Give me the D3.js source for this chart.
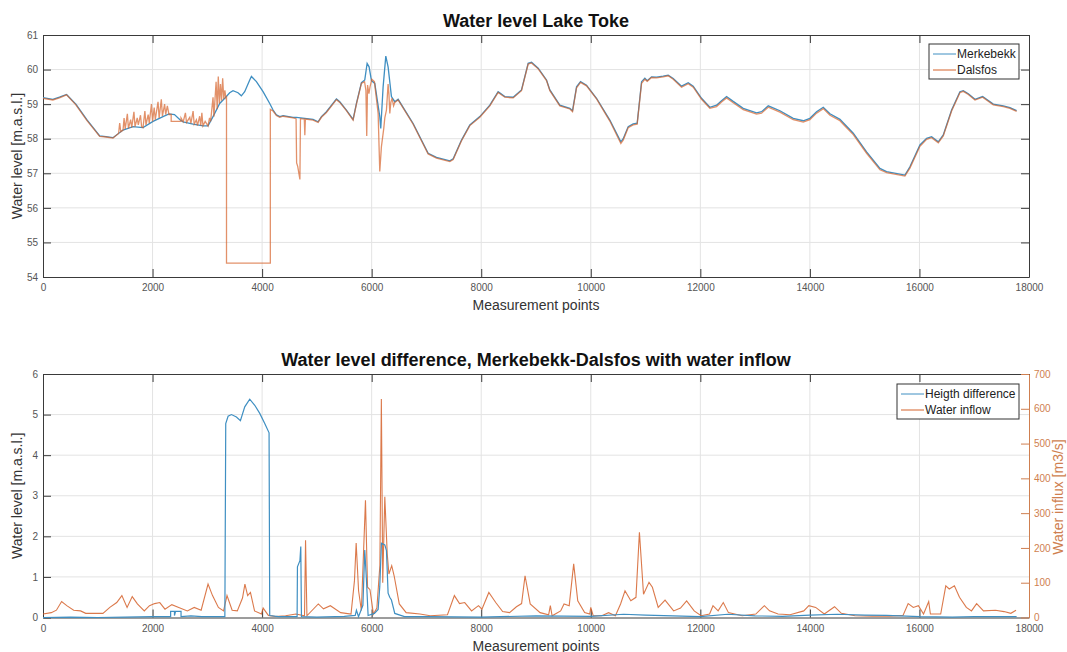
<!DOCTYPE html>
<html>
<head>
<meta charset="utf-8">
<script src="https://cdn.jsdelivr.net/npm/d3@7"></script>
<style>
  body { margin: 0; background: #fff; }
  text { font-family: "Liberation Sans", Arial, sans-serif; }
</style>
</head>
<body>
<div id="chart"></div>
<script>
// measurement point ticks
var xTicks = [0, 2000, 4000, 6000, 8000, 10000, 12000, 14000, 16000, 18000];
var levelTicks = [54, 55, 56, 57, 58, 59, 60, 61];
var diffTicks = [0, 1, 2, 3, 4, 5, 6];
var inflowTicks = [0, 100, 200, 300, 400, 500, 600, 700];

// [measurement point, water level m.a.s.l.]
var merkebekk = [[0,59.19],[180,59.14],[300,59.2],[430,59.28],[600,59.0],[800,58.55],[1035,58.08],[1150,58.06],[1278,58.03],[1461,58.25],[1643,58.35],[1826,58.32],[2009,58.5],[2191,58.64],[2300,58.72],[2400,58.7],[2500,58.55],[2557,58.49],[2739,58.42],[2922,58.37],[3013,58.37],[3104,58.64],[3226,59.02],[3318,59.17],[3408,59.33],[3469,59.39],[3560,59.33],[3621,59.24],[3682,59.36],[3774,59.7],[3805,59.8],[3896,59.65],[4017,59.36],[4139,59.02],[4200,58.83],[4261,58.69],[4322,58.64],[4383,58.67],[4565,58.62],[4626,58.62],[4931,58.56],[5022,58.49],[5083,58.64],[5174,58.78],[5357,59.15],[5418,59.07],[5539,58.83],[5661,58.56],[5722,59.02],[5813,59.62],[5874,59.7],[5917,60.18],[5953,60.08],[5996,59.68],[6057,59.6],[6148,58.64],[6166,58.3],[6209,59.5],[6258,60.39],[6300,60.08],[6361,59.22],[6422,59.07],[6483,59.14],[6757,58.44],[7031,57.58],[7183,57.46],[7427,57.36],[7488,57.42],[7640,57.96],[7792,58.4],[7974,58.64],[8157,58.97],[8309,59.36],[8431,59.22],[8583,59.2],[8735,59.41],[8857,60.18],[8918,60.21],[9040,60.04],[9192,59.7],[9253,59.41],[9435,58.97],[9618,58.88],[9667,58.81],[9740,59.5],[9813,59.65],[9922,59.55],[10105,59.17],[10348,58.54],[10549,57.91],[10592,58.0],[10683,58.35],[10774,58.43],[10847,58.45],[10927,59.65],[10987,59.75],[11030,59.68],[11109,59.79],[11200,59.78],[11322,59.81],[11413,59.84],[11505,59.74],[11657,59.52],[11779,59.62],[11870,59.52],[12022,59.17],[12174,58.91],[12296,58.97],[12387,59.1],[12479,59.22],[12600,59.08],[12783,58.88],[13026,58.75],[13118,58.78],[13240,58.95],[13453,58.81],[13696,58.59],[13879,58.52],[14000,58.59],[14122,58.78],[14244,58.91],[14366,58.72],[14549,58.56],[14609,58.46],[14792,58.16],[15035,57.62],[15279,57.14],[15400,57.05],[15735,56.95],[15826,57.19],[16009,57.82],[16131,58.01],[16222,58.06],[16344,57.91],[16435,58.11],[16587,58.83],[16739,59.36],[16800,59.39],[16892,59.3],[17014,59.14],[17153,59.22],[17348,59.0],[17531,58.95],[17652,58.9],[17774,58.81]];

var dalsfos = [[0,59.17],[180,59.12],[300,59.18],[430,59.27],[600,58.98],[800,58.53],[1035,58.07],[1150,58.05],[1278,58.02],[1380,58.15],[1400,58.45],[1420,58.2],[1461,58.25],[1480,58.6],[1500,58.28],[1540,58.72],[1560,58.3],[1600,58.55],[1620,58.32],[1660,58.78],[1680,58.35],[1720,58.6],[1740,58.4],[1780,58.68],[1800,58.35],[1826,58.32],[1860,58.8],[1880,58.4],[1920,58.7],[1940,58.45],[1980,59.0],[2000,58.5],[2030,58.9],[2050,58.55],[2100,59.07],[2120,58.6],[2160,59.14],[2180,58.65],[2220,59.0],[2240,58.7],[2270,58.95],[2300,58.7],[2340,58.7],[2340,58.5],[2520,58.5],[2520,58.6],[2560,58.49],[2600,58.75],[2620,58.47],[2680,58.62],[2700,58.44],[2740,58.8],[2760,58.42],[2800,58.55],[2820,58.38],[2860,58.65],[2880,58.38],[2900,58.75],[2920,58.37],[2960,58.5],[3013,58.37],[3040,58.6],[3060,58.5],[3104,59.2],[3120,58.64],[3160,59.65],[3180,58.85],[3200,59.8],[3220,59.02],[3240,59.58],[3260,59.1],[3280,59.75],[3300,59.15],[3320,59.4],[3340,59.17],[3350,59.19],[3350,54.4],[4150,54.4],[4150,58.85],[4200,58.8],[4261,58.67],[4322,58.62],[4383,58.65],[4565,58.6],[4620,58.58],[4630,57.3],[4650,57.2],[4690,56.82],[4700,58.58],[4770,58.57],[4780,58.1],[4790,58.57],[4931,58.54],[5022,58.47],[5083,58.62],[5174,58.76],[5357,59.13],[5418,59.05],[5539,58.81],[5661,58.54],[5722,59.0],[5813,59.6],[5870,59.65],[5895,59.4],[5910,58.08],[5925,59.55],[5950,59.3],[5970,59.5],[6002,59.72],[6050,59.65],[6118,58.73],[6148,57.05],[6178,57.77],[6221,58.3],[6240,58.6],[6270,58.83],[6300,59.58],[6315,59.3],[6331,58.73],[6350,59.05],[6373,59.17],[6400,58.95],[6422,59.05],[6483,59.12],[6757,58.42],[7031,57.56],[7183,57.44],[7427,57.34],[7488,57.4],[7640,57.94],[7792,58.38],[7974,58.62],[8157,58.95],[8309,59.34],[8431,59.2],[8583,59.18],[8735,59.39],[8857,60.16],[8918,60.19],[9040,60.02],[9192,59.68],[9253,59.39],[9435,58.95],[9618,58.86],[9667,58.78],[9740,59.47],[9813,59.63],[9922,59.53],[10105,59.15],[10348,58.51],[10549,57.86],[10592,57.96],[10683,58.32],[10774,58.4],[10847,58.42],[10927,59.6],[10987,59.72],[11030,59.66],[11109,59.77],[11200,59.76],[11322,59.79],[11413,59.82],[11505,59.72],[11657,59.49],[11779,59.59],[11870,59.49],[12022,59.14],[12174,58.88],[12296,58.93],[12387,59.06],[12479,59.18],[12600,59.04],[12783,58.84],[13026,58.71],[13118,58.74],[13240,58.91],[13453,58.77],[13696,58.55],[13879,58.48],[14000,58.55],[14122,58.74],[14244,58.87],[14366,58.68],[14549,58.52],[14609,58.42],[14792,58.12],[15035,57.58],[15279,57.1],[15400,57.02],[15735,56.92],[15826,57.15],[16009,57.78],[16131,57.98],[16222,58.03],[16344,57.88],[16435,58.08],[16587,58.8],[16739,59.33],[16800,59.37],[16892,59.28],[17014,59.12],[17153,59.2],[17348,58.98],[17531,58.93],[17652,58.88],[17774,58.79]];

// [measurement point, height difference m]
var heightDiff = [[0,0],[500,0.01],[1000,0],[1500,0.01],[2000,0.02],[2330,0.02],[2330,0.15],[2400,0.15],[2400,0.05],[2420,0.15],[2520,0.15],[2520,0.02],[2700,0.04],[2900,0.02],[3320,0.02],[3336,4.78],[3379,4.96],[3440,5.0],[3531,4.94],[3604,4.85],[3683,5.19],[3774,5.38],[3866,5.23],[3957,5.03],[4048,4.78],[4127,4.55],[4139,0.05],[4300,0.02],[4639,0.02],[4645,1.25],[4690,1.4],[4706,1.75],[4718,0.02],[5000,0.01],[5500,0.03],[5700,0.05],[5722,0.18],[5760,0.02],[5840,0.3],[5874,1.66],[5905,0.92],[5935,0.05],[6050,0.1],[6118,0.2],[6148,0.76],[6178,1.83],[6240,1.79],[6270,1.65],[6300,0.6],[6330,0.5],[6361,0.43],[6422,0.1],[6600,0.02],[7000,0.02],[8000,0.01],[9000,0.04],[10000,0.03],[10600,0.08],[11000,0.06],[12000,0.02],[12500,0.08],[13000,0.04],[13500,0.03],[14000,0.06],[14500,0.08],[15000,0.06],[15400,0.05],[16000,0.02],[16600,0.01],[17000,0.02],[17774,0.02]];

// [measurement point, water inflow m3/s]
var inflow = [[0,10],[151,14],[245,21],[340,46],[434,34],[560,21],[686,19],[780,12],[937,12],[1094,12],[1220,29],[1346,43],[1440,63],[1535,29],[1629,60],[1723,39],[1849,19],[1944,34],[2038,40],[2132,43],[2227,24],[2352,37],[2478,29],[2635,19],[2761,29],[2887,21],[3013,96],[3095,63],[3202,29],[3296,19],[3359,63],[3453,21],[3547,19],[3642,56],[3686,96],[3736,63],[3787,72],[3862,19],[3988,10],[4019,27],[4114,6],[4239,3],[4428,5],[4617,10],[4774,5],[4793,222],[4818,5],[5026,39],[5120,25],[5246,34],[5434,14],[5623,10],[5686,106],[5717,214],[5761,77],[5812,20],[5887,337],[5925,87],[5969,80],[6032,10],[6095,27],[6150,150],[6177,628],[6202,100],[6240,347],[6284,183],[6315,125],[6366,149],[6410,120],[6504,39],[6630,14],[6881,10],[7070,5],[7384,8],[7510,63],[7604,40],[7699,43],[7824,19],[7950,34],[8013,24],[8139,72],[8265,43],[8391,17],[8517,14],[8643,31],[8737,40],[8800,120],[8894,39],[9075,14],[9231,8],[9262,34],[9294,5],[9450,19],[9512,39],[9606,34],[9688,154],[9762,48],[9888,14],[9981,10],[10000,29],[10044,5],[10200,5],[10325,14],[10450,5],[10544,39],[10625,77],[10731,48],[10825,58],[10888,245],[10963,67],[11063,101],[11125,87],[11231,29],[11356,50],[11513,19],[11638,27],[11750,48],[11888,19],[12013,5],[12169,10],[12231,34],[12325,19],[12419,43],[12513,14],[12763,5],[13013,10],[13169,34],[13263,19],[13419,10],[13638,8],[13888,19],[13981,34],[14106,29],[14263,10],[14450,31],[14575,12],[14825,5],[15138,4],[15450,4],[15700,6],[15794,40],[15888,29],[15981,34],[16075,10],[16169,46],[16200,10],[16388,10],[16481,91],[16544,82],[16638,91],[16731,58],[16856,29],[16950,19],[17044,40],[17169,19],[17388,21],[17544,17],[17669,12],[17763,21]];

var width = 1067,
    height = 652,
    left = 43,
    right = 1029,
    blue = "#3f8fc2",
    orange = "#d5622b",
    rightAxisColor = "#cf7f50";

var svg = d3.select("#chart").append("svg")
    .attr("width", width)
    .attr("height", height);

var x = d3.scaleLinear().domain([0, 18000]).range([left, right]);

function drawFrame(top, bottom, yScale, yTicks, title, yLabel, rightTicks) {
  var g = svg.append("g");
  // grid
  g.selectAll(".gx").data(xTicks.slice(1, -1)).enter().append("line")
      .attr("x1", function(d) { return x(d); }).attr("x2", function(d) { return x(d); })
      .attr("y1", top).attr("y2", bottom)
      .attr("stroke", "#e3e3e3").attr("stroke-width", 1);
  g.selectAll(".gy").data(yTicks.slice(1, -1)).enter().append("line")
      .attr("x1", left).attr("x2", right)
      .attr("y1", function(d) { return yScale(d); }).attr("y2", function(d) { return yScale(d); })
      .attr("stroke", "#e3e3e3").attr("stroke-width", 1);

  // axes (MATLAB style, ticks inside)
  g.append("g").attr("transform", "translate(0," + bottom + ")")
      .call(d3.axisBottom(x).tickValues(xTicks).tickSizeInner(-8).tickSizeOuter(0).tickPadding(7).tickFormat(d3.format("d")));
  g.append("g").attr("transform", "translate(0," + top + ")")
      .call(d3.axisTop(x).tickValues(xTicks).tickSizeInner(-8).tickSizeOuter(0).tickFormat(""));
  g.append("g").attr("transform", "translate(" + left + ",0)")
      .call(d3.axisLeft(yScale).tickValues(yTicks).tickSizeInner(-8).tickSizeOuter(0).tickPadding(5).tickFormat(d3.format("d")));
  if (!rightTicks) {
    g.append("g").attr("transform", "translate(" + right + ",0)")
        .call(d3.axisRight(yScale).tickValues(yTicks).tickSizeInner(-8).tickSizeOuter(0).tickFormat(""));
  }
  g.selectAll(".domain").attr("stroke", "#3a3a3a");
  g.selectAll(".tick line").attr("stroke", "#3a3a3a");
  g.selectAll(".tick text").attr("fill", "#555").style("font-size", "10px");

  svg.append("text")
      .attr("x", (left + right) / 2).attr("y", top - 8)
      .attr("text-anchor", "middle")
      .style("font-size", "18px").style("font-weight", "bold")
      .attr("fill", "#111")
      .text(title);
  svg.append("text")
      .attr("transform", "translate(" + 22 + "," + ((top + bottom) / 2) + ") rotate(-90)")
      .attr("text-anchor", "middle")
      .style("font-size", "14px")
      .attr("fill", "#333")
      .text(yLabel);
  svg.append("text")
      .attr("x", (left + right) / 2).attr("y", bottom + 33)
      .attr("text-anchor", "middle")
      .style("font-size", "14px")
      .attr("fill", "#333")
      .text("Measurement points");
}

function legend(x0, y0, w, items) {
  var g = svg.append("g").attr("transform", "translate(" + x0 + "," + y0 + ")");
  g.append("rect").attr("width", w).attr("height", 35)
      .attr("fill", "#fff").attr("stroke", "#333").attr("stroke-width", 1);
  items.forEach(function(it, i) {
    var yy = 10 + i * 16;
    g.append("line").attr("x1", 4).attr("x2", 27).attr("y1", yy).attr("y2", yy)
        .attr("stroke", it.color).attr("stroke-width", 1);
    g.append("text").attr("x", 28).attr("y", yy + 4)
        .style("font-size", "12px").attr("fill", "#222").text(it.name);
  });
}

// ---- top chart
var yTop = d3.scaleLinear().domain([54, 61]).range([277, 35]);
drawFrame(35, 277, yTop, levelTicks, "Water level Lake Toke", "Water level [m.a.s.l.]", false);

var lineTop = d3.line()
    .x(function(d) { return x(d[0]); })
    .y(function(d) { return yTop(d[1]); });

svg.append("path").datum(merkebekk)
    .attr("d", lineTop).attr("fill", "none")
    .attr("stroke", blue).attr("stroke-width", 1.3);
svg.append("path").datum(dalsfos)
    .attr("d", lineTop).attr("fill", "none")
    .attr("stroke", orange).attr("stroke-width", 1.3).attr("stroke-opacity", 0.7);

legend(929, 44, 90, [{name: "Merkebekk", color: blue}, {name: "Dalsfos", color: orange}]);

// ---- bottom chart
var yDiff = d3.scaleLinear().domain([0, 6]).range([617.5, 374]);
var yFlow = d3.scaleLinear().domain([0, 700]).range([617.5, 374]);
drawFrame(374, 617.5, yDiff, diffTicks, "Water level difference, Merkebekk-Dalsfos with water inflow", "Water level [m.a.s.l.]", true);

var ra = svg.append("g").attr("transform", "translate(" + right + ",0)")
    .call(d3.axisRight(yFlow).tickValues(inflowTicks).tickSizeInner(-8).tickSizeOuter(0).tickPadding(5));
ra.selectAll(".domain").attr("stroke", rightAxisColor);
ra.selectAll(".tick line").attr("stroke", rightAxisColor);
ra.selectAll(".tick text").attr("fill", rightAxisColor).style("font-size", "10px");

svg.append("text")
    .attr("transform", "translate(" + 1063 + "," + 497 + ") rotate(-90)")
    .attr("text-anchor", "middle")
    .style("font-size", "14px")
    .attr("fill", rightAxisColor)
    .text("Water influx [m3/s]");

svg.append("path").datum(inflow)
    .attr("d", d3.line().x(function(d) { return x(d[0]); }).y(function(d) { return yFlow(d[1]); }))
    .attr("fill", "none").attr("stroke", orange).attr("stroke-width", 1.1).attr("stroke-opacity", 0.85);
svg.append("path").datum(heightDiff)
    .attr("d", d3.line().x(function(d) { return x(d[0]); }).y(function(d) { return yDiff(d[1]); }))
    .attr("fill", "none").attr("stroke", blue).attr("stroke-width", 1.2);

legend(897, 384, 122, [{name: "Heigth difference", color: blue}, {name: "Water inflow", color: orange}]);
</script>
</body>
</html>
